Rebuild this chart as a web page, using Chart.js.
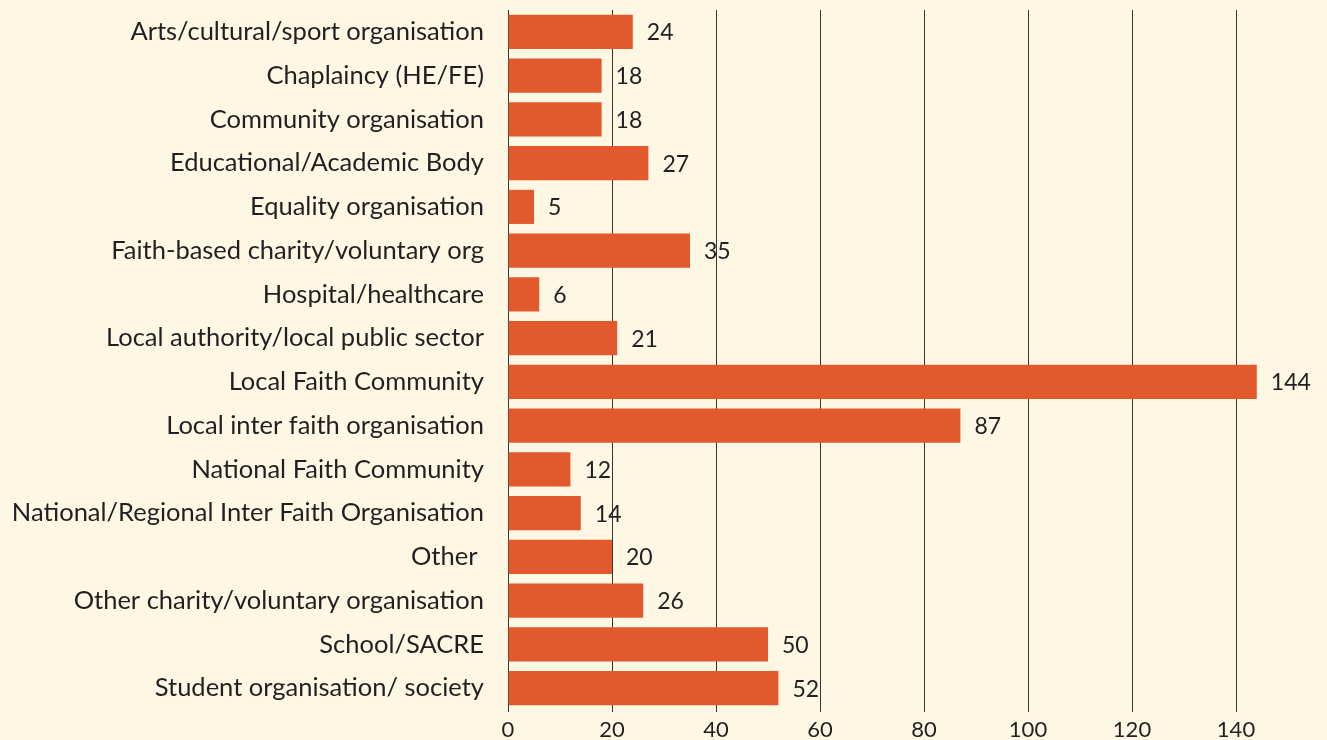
<!DOCTYPE html>
<html>
<head>
<meta charset="utf-8">
<script src="https://cdn.jsdelivr.net/npm/chart.js@4"></script>
<style>
  html, body { margin: 0; padding: 0; background: #fdf7e3; }
  #wrap { width: 1327px; height: 740px; }
</style>
</head>
<body>
<div id="wrap"><canvas id="chart" width="1327" height="740"></canvas></div>
<script>
const categories = [
  "Arts/cultural/sport organisation",
  "Chaplaincy (HE/FE)",
  "Community organisation",
  "Educational/Academic Body",
  "Equality organisation",
  "Faith-based charity/voluntary org",
  "Hospital/healthcare",
  "Local authority/local public sector",
  "Local Faith Community",
  "Local inter faith organisation",
  "National Faith Community",
  "National/Regional Inter Faith Organisation",
  "Other ",
  "Other charity/voluntary organisation",
  "School/SACRE",
  "Student organisation/ society"
];
const counts = [24, 18, 18, 27, 5, 35, 6, 21, 144, 87, 12, 14, 20, 26, 50, 52];
const xTicks = [0, 20, 40, 60, 80, 100, 120, 140];

const FONT = "Lato, 'Open Sans', sans-serif";
const TEXT = '#231f20';

// draws the count to the right of each bar
const valueLabels = {
  id: 'valueLabels',
  afterDatasetsDraw(chart) {
    const ctx = chart.ctx;
    const meta = chart.getDatasetMeta(0);
    ctx.save();
    ctx.font = '23px ' + FONT;
    ctx.fillStyle = TEXT;
    ctx.textAlign = 'left';
    ctx.textBaseline = 'middle';
    meta.data.forEach((bar, i) => {
      ctx.fillText(String(counts[i]), bar.x + 14, bar.y + 1);
    });
    ctx.restore();
  }
};

new Chart(document.getElementById('chart'), {
  type: 'bar',
  data: {
    labels: categories,
    datasets: [{
      data: counts,
      backgroundColor: '#e2592d',
      borderWidth: 0,
      barPercentage: 0.78,
      categoryPercentage: 1.0
    }]
  },
  options: {
    indexAxis: 'y',
    responsive: false,
    animation: false,
    layout: { padding: { top: 10, right: 39, left: 0, bottom: 0 } },
    scales: {
      x: {
        min: 0,
        max: 150,
        afterBuildTicks: (axis) => { axis.ticks = xTicks.map(v => ({ value: v })); },
        afterFit: (axis) => { axis.height = 30; axis.paddingLeft = 0; axis.paddingRight = 0; },
        grid: { color: '#333333', lineWidth: 1, tickLength: 2 },
        border: { display: false },
        ticks: { color: TEXT, font: { family: FONT, size: 22 }, padding: 5, maxRotation: 0 }
      },
      y: {
        afterFit: (axis) => { axis.width = 508; axis.paddingTop = 0; axis.paddingBottom = 0; },
        grid: { display: false, drawTicks: false, tickLength: 0 },
        border: { display: false },
        ticks: { color: TEXT, font: { family: FONT, size: 25.5 }, padding: 24, autoSkip: false }
      }
    },
    plugins: {
      legend: { display: false },
      tooltip: { enabled: false }
    }
  },
  plugins: [valueLabels]
});
</script>
</body>
</html>
